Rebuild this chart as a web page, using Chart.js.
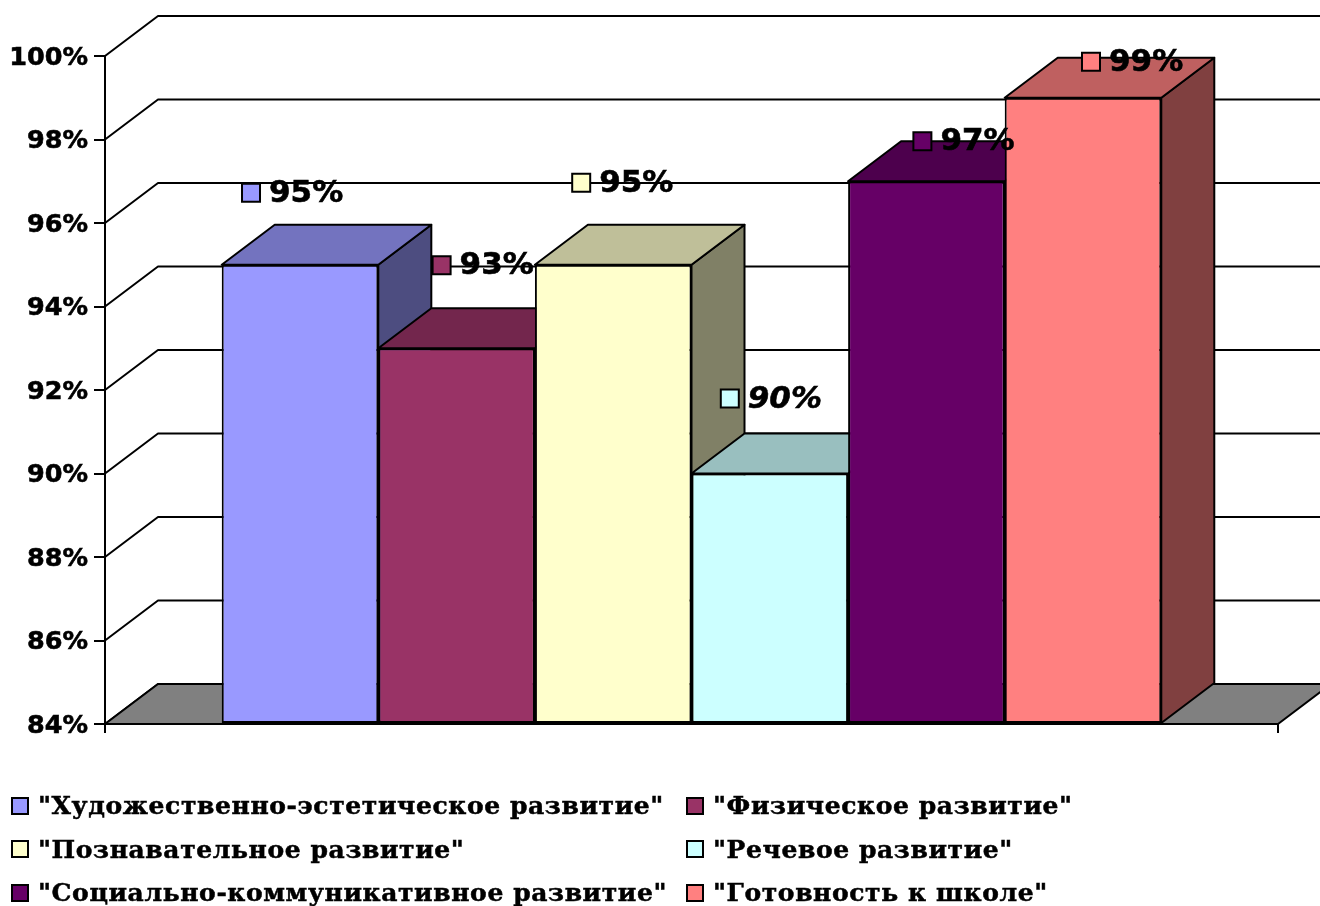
<!DOCTYPE html>
<html lang="ru">
<head>
<meta charset="utf-8">
<title>Диаграмма</title>
<script src="https://cdn.jsdelivr.net/npm/chart.js@4"></script>
<style>
    html, body { margin: 0; padding: 0; background: #fff; overflow: hidden; }
    #wrap { position: relative; width: 1320px; height: 906px; }
    #legend { position: absolute; left: 11px; top: 784px; display: grid; grid-template-columns: 675px auto; grid-auto-rows: 43.5px; }
    .item { display: flex; align-items: center; height: 43.5px; white-space: nowrap;
        font: bold 25px "DejaVu Serif", serif; letter-spacing: 0.6px; color: #000; -webkit-text-stroke: 0.5px #000; }
    .box { width: 14px; height: 14px; border: 2px solid #000; margin-right: 9px; box-sizing: content-box; flex: none; }
</style>
</head>
<body>
<div id="wrap">
    <canvas id="chart" width="1320" height="906"></canvas>
    <div id="legend"></div>
</div>
<script>
const categories = [''];
const seriesNames = [
    '"Художественно-эстетическое развитие"',
    '"Физическое развитие"',
    '"Познавательное развитие"',
    '"Речевое развитие"',
    '"Социально-коммуникативное развитие"',
    '"Готовность к школе"'
];
const seriesValues = [95, 93, 95, 90, 97, 99];
const seriesColors = ['#9999FF', '#993366', '#FFFFCC', '#CCFFFF', '#660066', '#FF8080'];

// where each label sits, relative to the bar centre and bar top
const labelShiftX = [-49, -15, -32, -40, -4, 8];
const labelShiftY = [-72, -83, -82, -75, -40, -36];
const labelItalic = [false, false, false, true, false, false];

const depthX = 53;
const depthY = 40;

function shade(hex, k) {
    const n = parseInt(hex.slice(1), 16);
    const r = Math.round((n >> 16 & 255) * k);
    const g = Math.round((n >> 8 & 255) * k);
    const b = Math.round((n & 255) * k);
    return `rgb(${r},${g},${b})`;
}

function poly(ctx, pts, fill) {
    ctx.beginPath();
    pts.forEach((p, i) => i ? ctx.lineTo(p[0], p[1]) : ctx.moveTo(p[0], p[1]));
    ctx.closePath();
    ctx.fillStyle = fill;
    ctx.fill();
    ctx.stroke();
}

// the 3D part: back wall lines, floor and the top and side of every bar
const depthPlugin = {
    id: 'depth',
    beforeDatasetsDraw(chart) {
        const { ctx, chartArea: area, scales } = chart;
        const yScale = scales.y;
        ctx.save();
        ctx.strokeStyle = '#000';
        ctx.lineWidth = 2;
        ctx.lineJoin = 'round';

        yScale.ticks.forEach(t => {
            const y = yScale.getPixelForValue(t.value);
            ctx.beginPath();
            ctx.moveTo(area.left, y);
            ctx.lineTo(area.left + depthX, y - depthY);
            ctx.lineTo(area.right + depthX, y - depthY);
            ctx.stroke();
        });

        const floor = yScale.getPixelForValue(yScale.min);
        poly(ctx, [
            [area.left, floor],
            [area.left + depthX, floor - depthY],
            [area.right + depthX, floor - depthY],
            [area.right, floor]
        ], '#808080');

        seriesColors.forEach((color, i) => {
            const bar = chart.getDatasetMeta(i).data[0];
            const half = bar.width / 2;
            const l = bar.x - half, r = bar.x + half, t = bar.y, b = bar.base;
            poly(ctx, [[r, t], [r + depthX, t - depthY], [r + depthX, b - depthY], [r, b]], shade(color, 0.5));
            poly(ctx, [[l, t], [l + depthX, t - depthY], [r + depthX, t - depthY], [r, t]], shade(color, 0.75));
        });
        ctx.restore();
    },
    afterDatasetsDraw(chart) {
        const { ctx } = chart;
        ctx.save();
        seriesValues.forEach((value, i) => {
            const bar = chart.getDatasetMeta(i).data[0];
            const cx = bar.x + labelShiftX[i];
            const cy = bar.y + labelShiftY[i];
            ctx.fillStyle = seriesColors[i];
            ctx.strokeStyle = '#000';
            ctx.lineWidth = 2;
            ctx.fillRect(cx - 9, cy - 9, 18, 18);
            ctx.strokeRect(cx - 9, cy - 9, 18, 18);
            ctx.fillStyle = '#000';
            ctx.font = (labelItalic[i] ? 'italic ' : '') + 'bold 31px "DejaVu Sans"';
            ctx.textAlign = 'left';
            ctx.textBaseline = 'middle';
            ctx.fillText(value + '%', cx + 18, cy + 1);
            ctx.lineWidth = 0.6;
            ctx.strokeText(value + '%', cx + 18, cy + 1);
        });
        ctx.restore();
    }
};

const chart = new Chart(document.getElementById('chart').getContext('2d'), {
    type: 'bar',
    data: {
        labels: categories,
        datasets: seriesNames.map((name, i) => ({
            label: name,
            data: [seriesValues[i]],
            base: 84,
            backgroundColor: seriesColors[i],
            borderColor: '#000',
            borderWidth: 2,
            borderSkipped: false,
            categoryPercentage: 0.801,
            barPercentage: 1
        }))
    },
    options: {
        responsive: false,
        animation: false,
        layout: { padding: { left: 0, right: 42, top: 56, bottom: 172 } },
        plugins: { legend: { display: false }, tooltip: { enabled: false } },
        scales: {
            x: {
                grid: { drawOnChartArea: false, color: '#000', lineWidth: 2, tickLength: 9 },
                border: { color: '#000', width: 2 },
                ticks: { display: false },
                afterFit(scale) { scale.height = 10; }
            },
            y: {
                min: 84,
                max: 100,
                grid: { drawOnChartArea: false, color: '#000', lineWidth: 2, tickLength: 11 },
                border: { color: '#000', width: 2 },
                ticks: {
                    stepSize: 2,
                    padding: 6,
                    labelOffset: 2,
                    color: '#000',
                    textStrokeColor: '#000',
                    textStrokeWidth: 0.6,
                    font: { family: '"DejaVu Sans"', weight: 'bold', size: 25.5 },
                    callback: v => v + '%'
                },
                afterFit(scale) { scale.width = 105; }
            }
        }
    },
    plugins: [depthPlugin]
});

// legend in two columns, same order as the series
const legendEl = document.getElementById('legend');
seriesNames.forEach((name, i) => {
    const item = document.createElement('div');
    item.className = 'item';
    const box = document.createElement('span');
    box.className = 'box';
    box.style.background = seriesColors[i];
    item.appendChild(box);
    item.appendChild(document.createTextNode(name));
    legendEl.appendChild(item);
});
</script>
</body>
</html>
